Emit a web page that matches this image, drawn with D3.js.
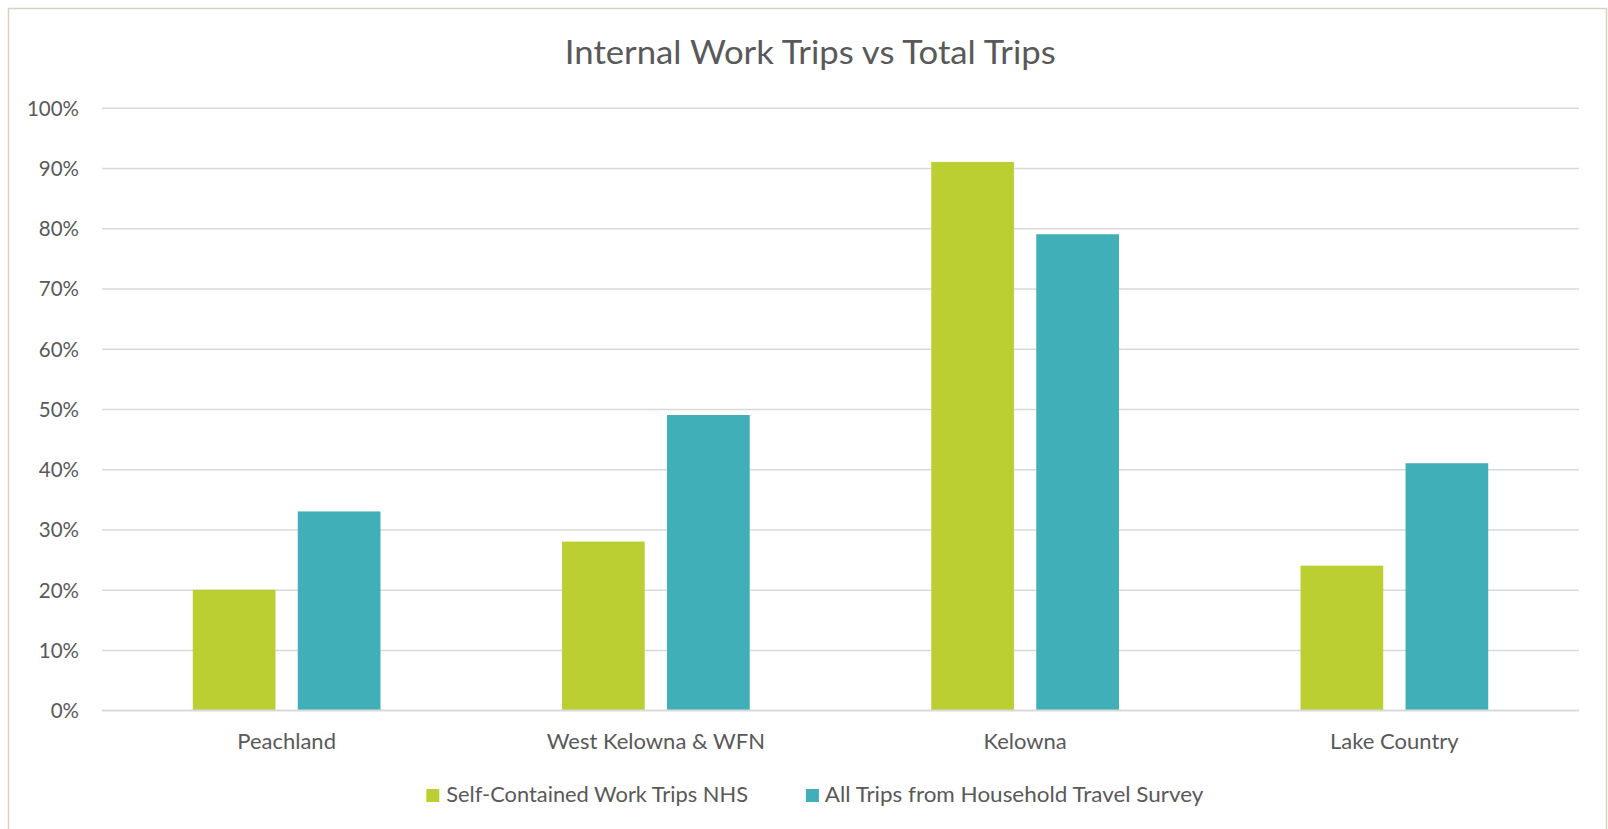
<!DOCTYPE html>
<html>
<head>
<meta charset="utf-8">
<script src="https://cdn.jsdelivr.net/npm/d3@7"></script>
<style>
  html, body { margin: 0; padding: 0; background: #ffffff; }
  svg { display: block; }
  text { font-family: Lato, "Open Sans", sans-serif; fill: #595959; }
</style>
</head>
<body>
<svg id="chart" width="1608" height="829"></svg>
<script>
// Share of trips staying inside each community
const categories = ["Peachland", "West Kelowna & WFN", "Kelowna", "Lake Country"];
const seriesNames = ["Self-Contained Work Trips NHS", "All Trips from Household Travel Survey"];
const selfContainedWork = [20, 28, 91, 24];
const allTripsSurvey = [33, 49, 79, 41];
const yTicks = [0, 10, 20, 30, 40, 50, 60, 70, 80, 90, 100];
const seriesColors = ["#bccf32", "#40afb8"];

const svg = d3.select("#chart");
const plot = { left: 102, right: 1579, top: 107.7, bottom: 710.3 };

// Frame around the chart area
svg.append("rect")
  .attr("x", 8.5).attr("y", 8.5)
  .attr("width", 1598).attr("height", 840)
  .attr("fill", "#ffffff")
  .attr("stroke", "#d9d2ba").attr("stroke-width", 1.5);

const x = d3.scaleBand().domain(categories).range([plot.left, plot.right]).padding(0);
const x1 = d3.scaleBand().domain([0, 1]).range([0, x.bandwidth()])
  .paddingInner(0.2124).paddingOuter(0.8645);
const y = d3.scaleLinear().domain([0, 100]).range([plot.bottom, plot.top]);

// Horizontal gridlines and percentage labels
const yAxis = svg.append("g")
  .attr("transform", `translate(${plot.left},0)`)
  .call(d3.axisLeft(y).tickValues(yTicks).tickSize(-(plot.right - plot.left))
    .tickPadding(23).tickFormat(d => d + "%"));
yAxis.select(".domain").remove();
yAxis.selectAll(".tick line").attr("stroke", "#d9d9d9").attr("stroke-width", 1.5);
yAxis.selectAll(".tick text")
  .attr("font-size", 20.5)
  .attr("fill", "#595959")
  .attr("dy", "0.36em")
  .style("font-family", "Lato, 'Open Sans', sans-serif");

// Bars
const rows = categories.map((c, i) => ({ cat: c, values: [selfContainedWork[i], allTripsSurvey[i]] }));
const groups = svg.append("g").selectAll("g").data(rows).join("g")
  .attr("transform", d => `translate(${x(d.cat)},0)`);
groups.selectAll("rect")
  .data(d => d.values.map((v, s) => ({ v, s })))
  .join("rect")
  .attr("x", d => x1(d.s))
  .attr("y", d => y(d.v))
  .attr("width", x1.bandwidth())
  .attr("height", d => y(0) - y(d.v))
  .attr("fill", d => seriesColors[d.s]);

// Baseline redrawn over bars
svg.append("line")
  .attr("x1", plot.left).attr("x2", plot.right)
  .attr("y1", y(0)).attr("y2", y(0))
  .attr("stroke", "#d9d9d9").attr("stroke-width", 1.5);

// Category labels
svg.append("g").selectAll("text").data(categories).join("text")
  .attr("x", d => x(d) + x.bandwidth() / 2)
  .attr("y", 749.3)
  .attr("text-anchor", "middle")
  .attr("font-size", 22)
  .text(d => d);

// Title
svg.append("text")
  .attr("x", 810.3).attr("y", 64.3)
  .attr("text-anchor", "middle")
  .attr("font-size", 32)
  .attr("textLength", 491)
  .attr("lengthAdjust", "spacingAndGlyphs")
  .text("Internal Work Trips vs Total Trips");

// Legend
const legendItems = [
  { name: seriesNames[0], color: seriesColors[0], kx: 426.3, tx: 446.3, tw: 301.7 },
  { name: seriesNames[1], color: seriesColors[1], kx: 805.9, tx: 824.8, tw: 378.6 }
];
const legend = svg.append("g");
legendItems.forEach(it => {
  legend.append("rect")
    .attr("x", it.kx).attr("y", 789)
    .attr("width", 13).attr("height", 13)
    .attr("fill", it.color);
  legend.append("text")
    .attr("x", it.tx).attr("y", 802.3)
    .attr("font-size", 22)
    .attr("textLength", it.tw)
    .attr("lengthAdjust", "spacingAndGlyphs")
    .text(it.name);
});
</script>
</body>
</html>
